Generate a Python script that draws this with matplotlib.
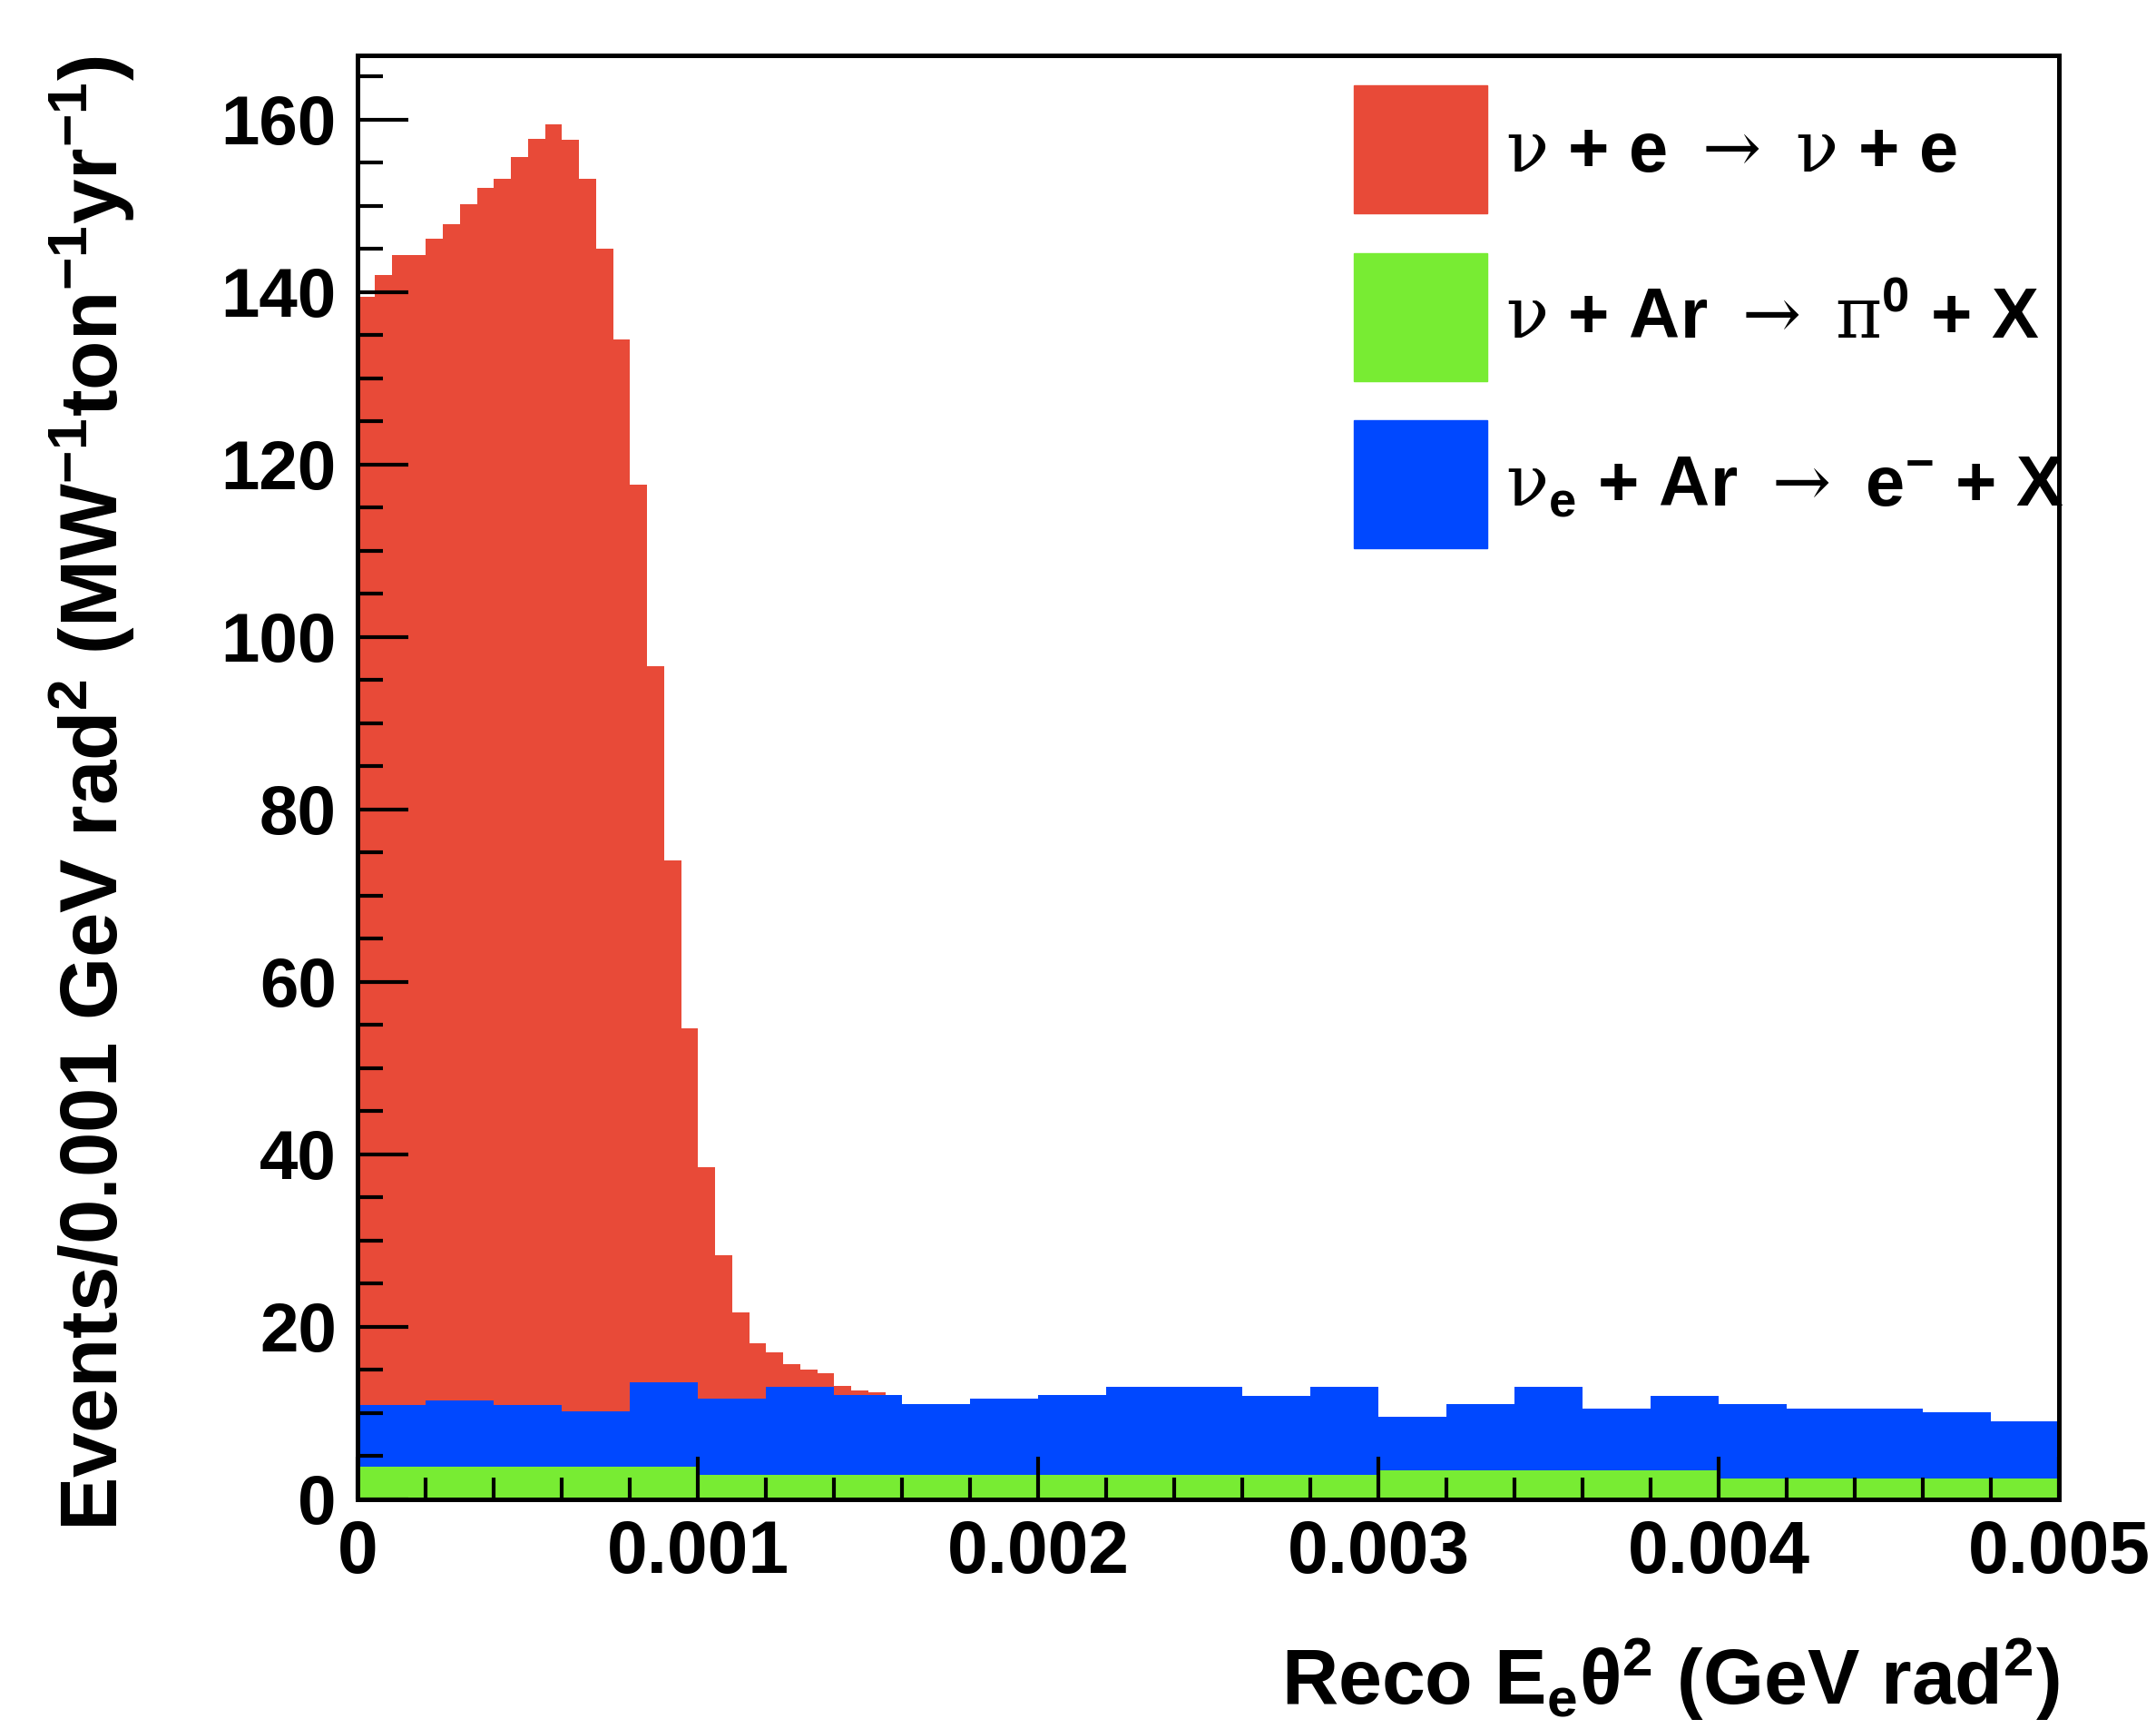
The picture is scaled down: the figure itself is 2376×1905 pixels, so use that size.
import numpy as np
import matplotlib
matplotlib.use("Agg")
import matplotlib.pyplot as plt
from matplotlib.patches import Patch
from matplotlib.ticker import MultipleLocator, FuncFormatter

plt.rcParams['font.family'] = ['Liberation Sans', 'DejaVu Sans']
plt.rcParams['font.weight'] = 'bold'
plt.rcParams['mathtext.fontset'] = 'custom'
plt.rcParams['mathtext.rm'] = 'DejaVu Serif:normal'
plt.rcParams['mathtext.default'] = 'regular'

# bin edges (GeV rad^2)
x_min, x_max = 0.0, 0.005
red_width = 0.00005     # nu + e
blue_width = 0.0002     # nue CC
green_width = 0.001     # pi0

# nu + e -> nu + e, events per bin (first 32 bins, zero above)
red_counts = [128.6, 131.1, 133.4, 133.4, 134.8, 136.5, 138.8, 140.7,
              142.2, 144.8, 146.9, 148.6, 147.5, 142.9, 134.8, 124.3,
              104.2, 83.1, 60.6, 41.1, 26.9, 16.7, 10.1, 6.5,
              4.0, 2.7, 2.0, 1.6, 1.0, 0.5, 0.3, 0.0]

# nue + Ar -> e- + X
blue_counts = [7.1, 7.6, 7.1, 6.4, 9.7,
               8.8, 10.2, 9.3, 8.25, 8.8,
               9.3, 10.25, 10.25, 9.2, 10.25,
               6.2, 7.75, 9.7, 7.2, 8.7,
               8.65, 8.1, 8.1, 7.7, 6.65]

# nu + Ar -> pi0 + X
green_counts = [3.8, 2.8, 2.8, 3.3, 2.4]

labels = [r"$\mathrm{\nu}$ + e $\mathrm{\rightarrow}$ $\mathrm{\nu}$ + e",
          r"$\mathrm{\nu}$ + Ar $\mathrm{\rightarrow}$ $\mathrm{\pi}^{0}$ + X",
          r"$\mathrm{\nu}_{e}$ + Ar $\mathrm{\rightarrow}$ e$^{-}$ + X"]
c_red, c_green, c_blue = '#e84a38', '#78ec33', '#0048ff'

# put everything on the fine binning so the stack can be summed
n_fine = int(round((x_max - x_min) / red_width))
edges = np.linspace(x_min, x_max, n_fine + 1)
red_fine = np.zeros(n_fine)
red_fine[:len(red_counts)] = red_counts
blue_fine = np.repeat(blue_counts, int(round(blue_width / red_width)))
green_fine = np.repeat(green_counts, int(round(green_width / red_width)))

g_top = green_fine
b_top = g_top + blue_fine
r_top = b_top + red_fine

fig = plt.figure(figsize=(23.76, 19.05), dpi=100)
ax = fig.add_axes([0.166, 0.133, 0.789, 0.835])

ax.stairs(r_top, edges, baseline=0, fill=True, color=c_red, lw=0)
ax.stairs(b_top, edges, baseline=0, fill=True, color=c_blue, lw=0)
ax.stairs(g_top, edges, baseline=0, fill=True, color=c_green, lw=0)

ax.set_xlim(x_min, x_max)
ax.set_ylim(0, 1.05 * r_top.max())
ax.set_axisbelow(False)

for s in ax.spines.values():
    s.set_linewidth(3.6)

ax.xaxis.set_major_locator(MultipleLocator(0.001))
ax.xaxis.set_minor_locator(MultipleLocator(0.0002))
ax.yaxis.set_major_locator(MultipleLocator(20))
ax.yaxis.set_minor_locator(MultipleLocator(5))
ax.xaxis.set_major_formatter(FuncFormatter(lambda v, p: "0" if v == 0 else "%g" % v))

ax.tick_params(axis='both', which='both', direction='in', top=False, right=False, width=3)
ax.tick_params(axis='y', which='major', length=40, labelsize=55, pad=17)
ax.tick_params(axis='y', which='minor', length=20)
ax.tick_params(axis='x', which='major', length=34, labelsize=58, pad=16)
ax.tick_params(axis='x', which='minor', length=17)

ax.set_xlabel(r"Reco E$_{e}$θ$^{2}$ (GeV rad$^{2}$)", fontsize=62, fontweight='bold', loc='right')
ax.xaxis.set_label_coords(1.0, -0.095)
ax.set_ylabel(r"Events/0.001 GeV rad$^{2}$ (MW$^{-1}$ton$^{-1}$yr$^{-1}$)", fontsize=64,
              fontweight='bold', loc='top')
ax.yaxis.set_label_coords(-0.13, 1.0)

handles = [Patch(color=c_red), Patch(color=c_green), Patch(color=c_blue)]
ax.legend(handles, labels, loc='upper left', bbox_to_anchor=(0.5856, 0.979),
          frameon=False, fontsize=56, handlelength=1.89, handleheight=2.41,
          handletextpad=0.26, labelspacing=0.56, borderpad=0, borderaxespad=0)

fig.savefig("out.png", dpi=100)
